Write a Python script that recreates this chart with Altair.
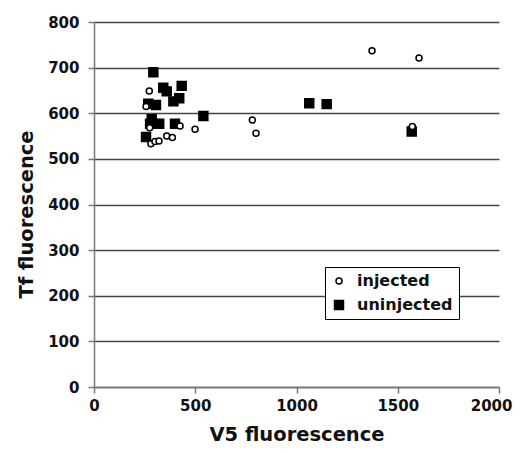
import altair as alt
import pandas as pd

inj_x = [273, 257, 275, 425, 281, 301, 321, 359, 387, 499, 782, 800, 1572, 1373, 1605]
inj_y = [649, 615, 568, 572, 533, 538, 539, 550, 547, 565, 585, 556, 571, 737, 721]

un_x = [293, 342, 359, 433, 421, 392, 268, 306, 285, 277, 322, 400, 540, 257, 1063, 1149, 1569]
un_y = [690, 656, 648, 660, 633, 626, 621, 618, 587, 577, 577, 577, 594, 548, 622, 620, 560]

groups = ["injected", "uninjected"]
x_ticks = [0, 500, 1000, 1500, 2000]
y_ticks = [0, 100, 200, 300, 400, 500, 600, 700, 800]

rows = [{"x": x, "y": y, "g": "uninjected", "o": 0} for x, y in zip(un_x, un_y)]
rows += [{"x": x, "y": y, "g": "injected", "o": 1} for x, y in zip(inj_x, inj_y)]
df = pd.DataFrame(rows)

font = "DejaVu Sans"

chart = alt.Chart(df).mark_point(filled=False, strokeWidth=1.5, opacity=1).encode(
    x=alt.X("x:Q", title="V5 fluorescence",
            scale=alt.Scale(domain=[0, 2000], nice=False),
            axis=alt.Axis(values=x_ticks, grid=False, format="d", labelFlush=False,
                          labelPadding=5, titleBaseline="alphabetic", titleY=53,
                          labelAlign={"condition": {"test": "datum.value == 2000", "value": "right"},
                                      "value": "center"},
                          labelOffset={"condition": {"test": "datum.value == 2000", "value": 13},
                                       "value": 0})),
    y=alt.Y("y:Q", title="Tf fluorescence",
            scale=alt.Scale(domain=[0, 800], nice=False),
            axis=alt.Axis(values=y_ticks, grid=True, labelPadding=9,
                          titleAngle=270, titleBaseline="alphabetic", titleAlign="center",
                          titleX=-62, titleY=192)),
    shape=alt.Shape("g:N", scale=alt.Scale(domain=groups, range=["circle", "square"]), title=None),
    fill=alt.Fill("g:N", scale=alt.Scale(domain=groups, range=["white", "black"]), title=None),
    stroke=alt.Stroke("g:N", scale=alt.Scale(domain=groups, range=["black", "black"]), title=None),
    size=alt.Size("g:N", scale=alt.Scale(domain=groups, range=[36, 80]), title=None),
    order=alt.Order("o:Q"),
).properties(
    width=405, height=365,
    autosize=alt.AutoSizeParams(type="none"),
    padding={"left": 86, "top": 14, "right": 15, "bottom": 58},
).configure_view(stroke=None).configure_axis(
    labelFont=font, titleFont=font, labelFontWeight="bold", titleFontWeight="bold",
    labelFontSize=15, titleFontSize=19.5, labelColor="#111", titleColor="#111",
    domainColor="#777", domainWidth=1.5, tickColor="#777", tickWidth=1.5, tickSize=6,
    gridColor="#444", gridWidth=1.3, gridOpacity=1,
).configure_legend(
    orient="none", legendX=231, legendY=245, strokeColor="black", fillColor="white",
    padding=6, labelFont=font, labelFontWeight="bold", labelFontSize=16, labelColor="#111",
    rowPadding=8, labelOffset=10,
)

chart.save("out.html", embed_options={"renderer": "svg", "actions": False})
